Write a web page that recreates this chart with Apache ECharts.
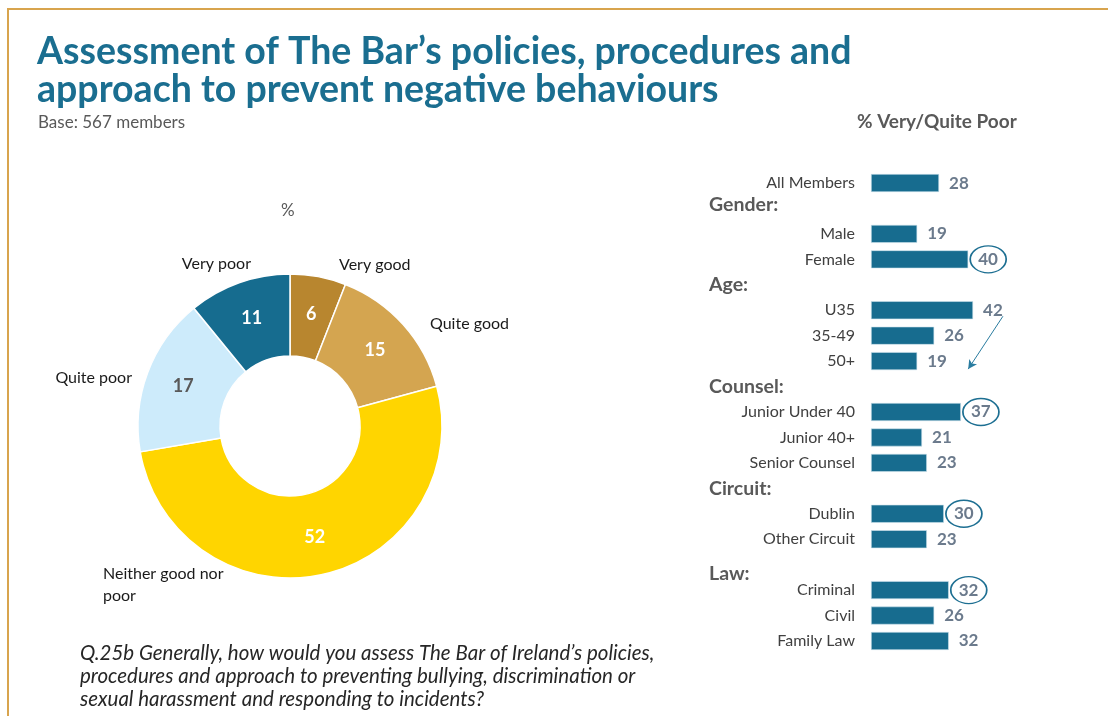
<!DOCTYPE html>
<html>
<head>
<meta charset="utf-8">
<script src="https://cdn.jsdelivr.net/npm/echarts@6/dist/echarts.min.js"></script>
<style>html,body{margin:0;padding:0;background:#fff;}#c{width:1108px;height:716px;}</style>
</head>
<body>
<div id="c"></div>
<script>
// ---- data ----
const pieCategories = ['Very good', 'Quite good', 'Neither good nor poor', 'Quite poor', 'Very poor'];
const pieValues = [6, 15, 52, 17, 11];
const barCategories = ['All Members', 'Gender:', 'Male', 'Female', 'Age:', 'U35', '35-49', '50+',
  'Counsel:', 'Junior Under 40', 'Junior 40+', 'Senior Counsel', 'Circuit:', 'Dublin', 'Other Circuit',
  'Law:', 'Criminal', 'Civil', 'Family Law'];
const barValues = [28, null, 19, 40, null, 42, 26, 19, null, 37, 21, 23, null, 30, 23, null, 32, 26, 32];
const circledCategories = ['Female', 'Junior Under 40', 'Dublin', 'Criminal'];

// ---- styles ----
const FONT = 'Lato, "Open Sans", sans-serif';
const pieColors = ['#B8862F', '#D4A550', '#FFD500', '#CDEBFB', '#166C8F'];
const valueLabelColors = ['#ffffff', '#ffffff', '#ffffff', '#595959', '#ffffff'];
const outerLabelPos = [
  {x: 339, y: 265, align: 'left'},
  {x: 430, y: 324, align: 'left'},
  {x: 103, y: 585, align: 'left'},
  {x: 132, y: 378, align: 'right'},
  {x: 251, y: 264, align: 'right'}
];

const chart = echarts.init(document.getElementById('c'), null, {renderer: 'canvas'});

const pieData = pieCategories.map((n, i) => ({
  name: n, value: pieValues[i],
  itemStyle: {color: pieColors[i]},
  label: {color: valueLabelColors[i]}
}));

const option = {
  backgroundColor: '#ffffff',
  animation: false,
  title: [
    {text: "Assessment of The Bar\u2019s policies, procedures and\napproach to prevent negative behaviours",
     left: 37, top: 33, padding: 0,
     textStyle: {fontFamily: FONT, fontSize: 37.5, fontWeight: 'bold', color: '#1A6E90', lineHeight: 38}},
    {text: 'Base: 567 members', left: 38, top: 114, padding: 0,
     textStyle: {fontFamily: FONT, fontSize: 17, fontWeight: 'normal', color: '#595959'}},
    {text: '% Very/Quite Poor', left: 857, top: 112, padding: 0,
     textStyle: {fontFamily: FONT, fontSize: 19, fontWeight: 'bold', color: '#595959'}},
    {text: '%', left: 281, top: 202, padding: 0,
     textStyle: {fontFamily: FONT, fontSize: 17, fontWeight: 'normal', color: '#595959'}},
    {text: 'Q.25b Generally, how would you assess The Bar of Ireland\u2019s policies,\nprocedures and approach to preventing bullying, discrimination or\nsexual harassment and responding to incidents?',
     left: 80, top: 642, padding: 0,
     textStyle: {fontFamily: FONT, fontSize: 20.5, fontStyle: 'italic', fontWeight: 'normal', color: '#262626', lineHeight: 23}}
  ],
  graphic: [
    {type: 'line', shape: {x1: 7, y1: 9, x2: 1108, y2: 9}, style: {stroke: '#D8A44E', lineWidth: 2}},
    {type: 'line', shape: {x1: 8, y1: 8, x2: 8, y2: 716}, style: {stroke: '#D8A44E', lineWidth: 2}}
  ],
  grid: {left: 871, top: 170.3, width: 121.5, height: 483.4, containLabel: false},
  xAxis: {type: 'value', min: 0, max: 50, show: false, splitLine: {show: false}},
  yAxis: {
    type: 'category', data: barCategories, inverse: true,
    axisLine: {show: false}, axisTick: {show: false},
    axisLabel: {
      margin: 16,
      formatter: v => {
        if (v.endsWith(':')) {
          const k = v === 'Gender:' ? 'hg' : (v === 'Law:' ? 'hl' : 'h');
          return '{' + k + '|' + v + '}';
        }
        return '{c|' + v + '}';
      },
      rich: {
        c: {width: 146, align: 'right', fontFamily: FONT, fontSize: 16, color: '#404040'},
        h: {width: 146, align: 'left', fontFamily: FONT, fontSize: 19.5, fontWeight: 'bold', color: '#595959'},
        hg: {width: 146, align: 'left', fontFamily: FONT, fontSize: 19.5, fontWeight: 'bold', color: '#595959', padding: [0, 0, 8, 0]},
        hl: {width: 146, align: 'left', fontFamily: FONT, fontSize: 19.5, fontWeight: 'bold', color: '#595959', padding: [18, 0, 0, 0]}
      }
    }
  },
  series: [
    {
      type: 'pie', center: [290, 426], radius: [70, 152], startAngle: 90, clockwise: true,
      avoidLabelOverlap: false, silent: true,
      itemStyle: {borderColor: '#ffffff', borderWidth: 1.5},
      label: {show: true, position: 'inside', formatter: '{c}', fontFamily: FONT, fontSize: 18, fontWeight: 'bold'},
      labelLine: {show: false},
      data: pieData
    },
    {
      type: 'pie', center: [290, 426], radius: [70, 152], startAngle: 90, clockwise: true,
      avoidLabelOverlap: false, silent: true,
      itemStyle: {color: 'rgba(0,0,0,0)'},
      label: {show: true, position: 'outside', fontFamily: FONT, fontSize: 16, color: '#1a1a1a', lineHeight: 22,
        formatter: p => p.name.replace(' nor poor', ' nor\npoor')},
      labelLine: {show: false},
      labelLayout: p => Object.assign({verticalAlign: 'middle'}, outerLabelPos[p.dataIndex]),
      data: pieCategories.map((n, i) => ({name: n, value: pieValues[i]}))
    },
    {
      type: 'bar', barWidth: 18, silent: true,
      data: barValues,
      itemStyle: {color: '#176C8F', borderColor: '#cfe3ec', borderWidth: 0.6},
      label: {show: true, position: 'right', distance: 10, fontFamily: FONT, fontSize: 17, fontWeight: 'bold', color: '#6B7A8C',
        formatter: p => (p.value == null ? '' : p.value)},
      markPoint: {
        silent: true,
        symbol: 'circle', symbolSize: [36, 27], symbolOffset: [20, 0],
        itemStyle: {color: 'rgba(0,0,0,0)', borderColor: '#1D6F92', borderWidth: 1.5},
        label: {show: false},
        data: circledCategories.map(n => ({coord: [barValues[barCategories.indexOf(n)], n]}))
      }
    }
  ]
};
chart.setOption(option);

// arrow annotation from U35 down to 50+
const p1 = chart.convertToPixel({gridIndex: 0}, [54.3, 'U35']);
const p2 = chart.convertToPixel({gridIndex: 0}, [40, '50+']);
chart.setOption({series: [{}, {}, {
  markLine: {
    silent: true, symbol: ['none', 'arrow'], symbolSize: [7, 9],
    lineStyle: {color: '#2A7CA0', width: 1, type: 'solid'},
    label: {show: false},
    data: [[{x: p1[0], y: p1[1] + 6}, {x: p2[0], y: p2[1] + 8}]]
  }
}]});
</script>
</body>
</html>
